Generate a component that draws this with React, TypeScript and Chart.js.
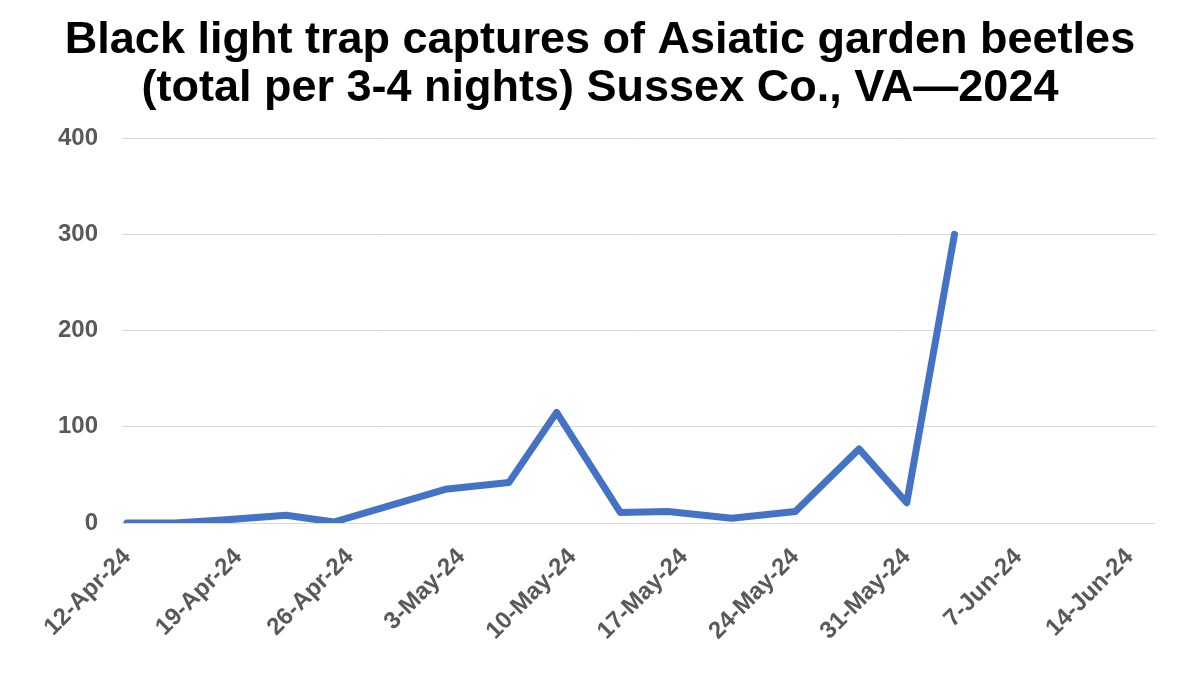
import { useEffect, useRef } from "react";
import { Chart, registerables } from "chart.js";

Chart.register(...registerables);

// trap check dates and total beetles caught
const sampleDates = [
  "2024-04-12",
  "2024-04-15",
  "2024-04-18",
  "2024-04-22",
  "2024-04-25",
  "2024-05-02",
  "2024-05-06",
  "2024-05-09",
  "2024-05-13",
  "2024-05-16",
  "2024-05-20",
  "2024-05-24",
  "2024-05-28",
  "2024-05-31",
  "2024-06-03",
];
const captures = [0, 0, 3, 8, 1, 35, 42, 115, 11, 12, 5, 12, 77, 21, 300];

const tickDates = [
  "2024-04-12",
  "2024-04-19",
  "2024-04-26",
  "2024-05-03",
  "2024-05-10",
  "2024-05-17",
  "2024-05-24",
  "2024-05-31",
  "2024-06-07",
  "2024-06-14",
];
const tickLabels = [
  "12-Apr-24",
  "19-Apr-24",
  "26-Apr-24",
  "3-May-24",
  "10-May-24",
  "17-May-24",
  "24-May-24",
  "31-May-24",
  "7-Jun-24",
  "14-Jun-24",
];
const yTicks = [0, 100, 200, 300, 400];

const titleLines = [
  "Black light trap captures of Asiatic garden beetles",
  "(total per 3-4 nights) Sussex Co., VA\u20142024",
];

const DAY = 86400000;
const toDay = (s: string) => Date.parse(s + "T00:00:00Z") / DAY;

export default function App() {
  const canvasRef = useRef<HTMLCanvasElement>(null);

  useEffect(() => {
    if (!canvasRef.current) return;
    const font = "'Liberation Sans', Arial, sans-serif";
    const tickDays = tickDates.map(toDay);

    const chart = new Chart(canvasRef.current, {
      type: "line",
      data: {
        datasets: [
          {
            label: "Asiatic garden beetles",
            data: sampleDates.map((d, i) => ({ x: toDay(d), y: captures[i] })),
            borderColor: "#4472C4",
            borderWidth: 7,
            pointRadius: 0,
            borderCapStyle: "round",
            borderJoinStyle: "round",
            tension: 0,
          },
        ],
      },
      options: {
        animation: false,
        responsive: true,
        maintainAspectRatio: false,
        layout: { padding: { top: 0, right: 45, bottom: 0, left: 45 } },
        plugins: {
          legend: { display: false },
          tooltip: { enabled: false },
          title: {
            display: true,
            text: titleLines,
            color: "#000000",
            font: { family: font, size: 45, weight: "bold", lineHeight: 1.08 },
            padding: { top: 16, bottom: 25 },
          },
        },
        scales: {
          x: {
            type: "linear",
            min: toDay("2024-04-12") - 0.31,
            max: toDay("2024-06-16") - 0.4,
            afterBuildTicks: (scale: any) => {
              scale.ticks = tickDays.map((v) => ({ value: v }));
            },
            afterFit: (scale: any) => {
              scale.height = 152;
            },
            grid: { display: false, drawTicks: false },
            border: { display: false },
            ticks: {
              autoSkip: false,
              minRotation: 45,
              maxRotation: 45,
              padding: 20,
              color: "#595959",
              font: { family: font, size: 24, weight: "bold" },
              callback: (v: any) => {
                const i = tickDays.indexOf(Number(v));
                return i >= 0 ? tickLabels[i] : "";
              },
            },
          },
          y: {
            min: 0,
            max: 400,
            afterBuildTicks: (scale: any) => {
              scale.ticks = yTicks.map((v) => ({ value: v }));
            },
            afterFit: (scale: any) => {
              scale.width = 77;
            },
            grid: { color: "#D9D9D9", lineWidth: 1, drawTicks: false },
            border: { display: false },
            ticks: {
              padding: 24,
              color: "#595959",
              font: { family: font, size: 24, weight: "bold" },
            },
          },
        },
      },
    });

    return () => {
      chart.destroy();
    };
  }, []);

  return (
    <div
      style={{
        position: "fixed",
        left: 0,
        top: 0,
        width: 1200,
        height: 675,
        background: "#ffffff",
      }}
    >
      <canvas ref={canvasRef} />
    </div>
  );
}
